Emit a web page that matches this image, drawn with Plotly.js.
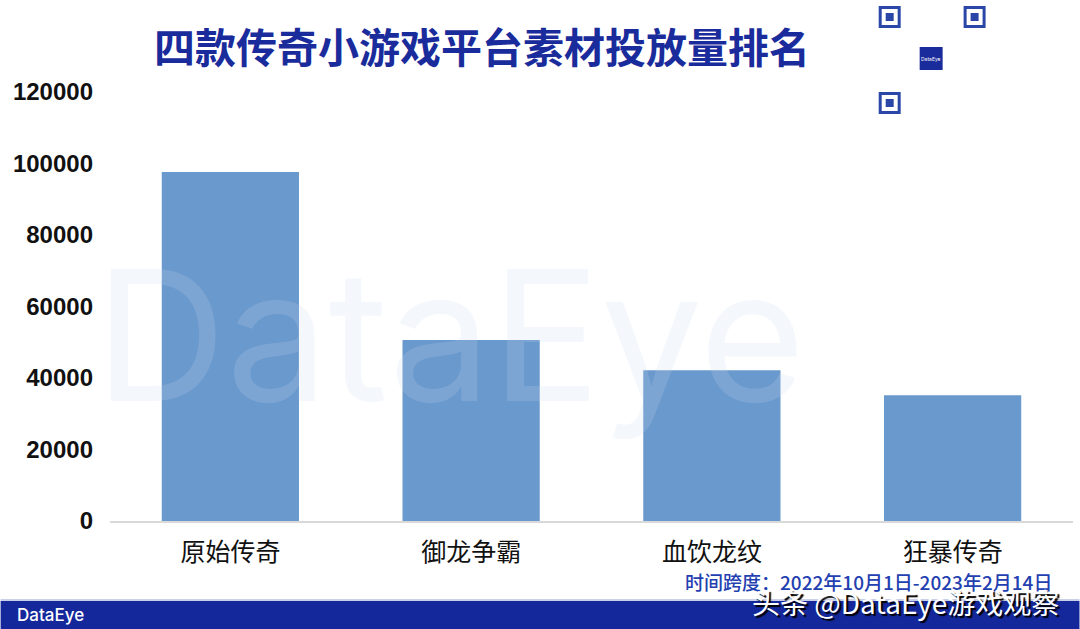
<!DOCTYPE html>
<html>
<head>
<meta charset="utf-8">
<script src="https://cdn.plot.ly/plotly-3.0.1.min.js"></script>
<style>
html,body{margin:0;padding:0;background:#fff;}
#chart{width:1080px;height:629px;}
</style>
</head>
<body>
<div id="chart"></div>
<script>
const categories = ["原始传奇", "御龙争霸", "血饮龙纹", "狂暴传奇"];
const values = [97600, 50600, 42200, 35200];
const tickVals = [0, 20000, 40000, 60000, 80000, 100000, 120000];
const tickText = ["0", "20000", "40000", "60000", "80000", "100000", "120000"];
const titleText = "四款传奇小游戏平台素材投放量排名";
const spanText = "时间跨度：2022年10月1日-2023年2月14日";

const cjk = '"Noto Sans CJK SC", "Noto Sans", sans-serif';
const blue = "#1a2c9c";

const M = {l:109.5, r:6.5, t:92, b:108};
const W = 1080 - M.l - M.r, H = 629 - M.t - M.b;

const trace = {
  type: "bar",
  x: categories,
  y: values,
  marker: {color: "#6a99cd", line: {width: 0}},
  hoverinfo: "skip"
};

// convert page pixels to paper coordinates (paper = plot area)
function px(x){return (x - M.l)/W;}
function py(y){return (629 - M.b - y)/H;}

const shapes = [];
function rect(x0,y0,x1,y1,opts){
  shapes.push(Object.assign({type:"rect", xref:"paper", yref:"paper",
    x0:px(x0), x1:px(x1), y0:py(y1), y1:py(y0), layer:"above"}, opts));
}
// QR-like decoration: finder patterns and logo box
[[879,6],[964,6],[879,92]].forEach(([x,y])=>{
  rect(x+1.5,y+1.5,x+20.5,y+20.5,{line:{color:"#2a47a8",width:3},fillcolor:"rgba(0,0,0,0)"});
  rect(x+7,y+7,x+15,y+15,{line:{width:0},fillcolor:"#2a47a8"});
});
rect(920,47,943,70,{line:{width:0},fillcolor:"#1a2c9c"});
// bottom band
rect(0,599,1080,601,{line:{width:0},fillcolor:"#c9cfe6"});
rect(0,601,1080,629,{line:{width:0},fillcolor:"#14289c"});

const annotations = [
  {text:"DataEye", xref:"paper", yref:"paper", x:px(450), y:py(335), xanchor:"center", yanchor:"middle",
   showarrow:false, font:{family:"Inter, 'Open Sans', sans-serif", size:182, color:"rgba(200,215,240,0.2)"}},
  {text:titleText, xref:"paper", yref:"paper", x:px(482), y:py(45), xanchor:"center", yanchor:"middle",
   showarrow:false, font:{family:cjk, size:41, color:blue, weight:700}},
  {text:spanText, xref:"paper", yref:"paper", x:px(1054), y:py(581), xanchor:"right", yanchor:"middle",
   showarrow:false, font:{family:cjk, size:19, color:"#2340b0", weight:500}},
  {text:"DataEye", xref:"paper", yref:"paper", x:px(931.5), y:py(58.5), xanchor:"center", yanchor:"middle",
   showarrow:false, font:{family:"Inter, sans-serif", size:5, color:"#ffffff"}},
  {text:"DataEye", xref:"paper", yref:"paper", x:px(14), y:py(615), xanchor:"left", yanchor:"middle",
   showarrow:false, font:{family:"Inter, 'Open Sans', sans-serif", size:17, color:"#ffffff", weight:500}},
  {text:"头条 @DataEye游戏观察", xref:"paper", yref:"paper", x:px(1061), y:py(602), xanchor:"right", yanchor:"middle",
   showarrow:false, font:{family:cjk, size:28, color:"#ffffff", shadow:"2px 2px 1px #000"}}
];

const layout = {
  width:1080, height:629,
  margin:{l:M.l, r:M.r, t:M.t, b:M.b, pad:0},
  paper_bgcolor:"#ffffff", plot_bgcolor:"rgba(0,0,0,0)",
  showlegend:false,
  bargap:0.43,
  xaxis:{
    type:"category",
    showgrid:false, zeroline:false,
    showline:true, linecolor:"#d9d9d9", linewidth:2,
    ticks:"", ticklabelstandoff:8,
    tickfont:{family:cjk, size:25, color:"#111111"}
  },
  yaxis:{
    range:[0,120000], showgrid:false, zeroline:false, showline:false,
    tickvals:tickVals, ticktext:tickText, ticks:"",
    ticklabelstandoff:16,
    tickfont:{family:"'Liberation Sans', Arial, sans-serif", size:24, color:"#111111", weight:700}
  },
  shapes:shapes,
  annotations:annotations
};

Plotly.newPlot("chart", [trace], layout, {displayModeBar:false, staticPlot:true});
</script>
</body>
</html>
